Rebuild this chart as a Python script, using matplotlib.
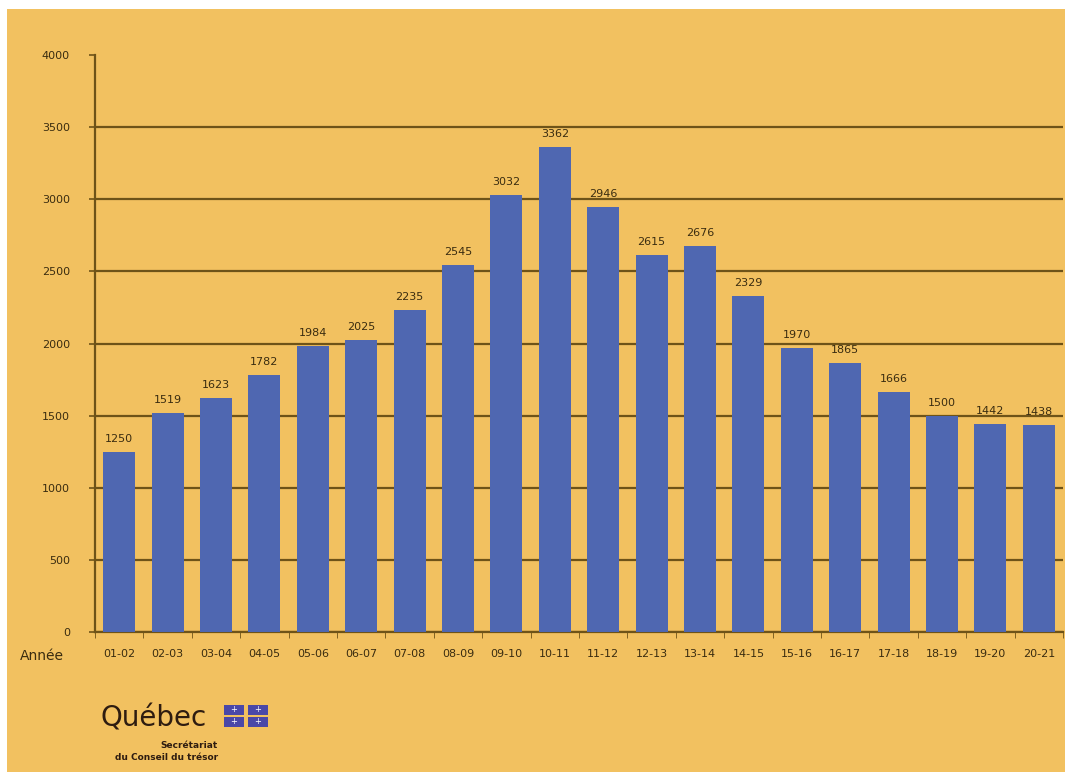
import numpy as np
import matplotlib.pyplot as plt
from matplotlib.patches import Rectangle

# data
annees = ['01-02', '02-03', '03-04', '04-05', '05-06', '06-07', '07-08', '08-09',
          '09-10', '10-11', '11-12', '12-13', '13-14', '14-15', '15-16', '16-17',
          '17-18', '18-19', '19-20', '20-21']
valeurs = [1250, 1519, 1623, 1782, 1984, 2025, 2235, 2545, 3032, 3362,
           2946, 2615, 2676, 2329, 1970, 1865, 1666, 1500, 1442, 1438]
yticks = [0, 500, 1000, 1500, 2000, 2500, 3000, 3500, 4000]

orange = '#F2C160'
bleu = '#4F67B1'
brun = '#6E5318'
texte = '#3A2C10'

fig = plt.figure(figsize=(10.65, 7.72), dpi=100, facecolor='white')
# orange panel with a thin white border top/left
fig.add_artist(Rectangle((7/1065, 0), 1, 1 - 9/772, transform=fig.transFigure,
                         facecolor=orange, edgecolor='none', zorder=0))

ax = fig.add_axes([95/1065, 1 - 632/772, 968/1065, 577/772])
ax.set_facecolor(orange)
ax.patch.set_alpha(0)

x = np.arange(len(annees))
ax.bar(x, valeurs, width=0.66, color=bleu, zorder=3)
for xi, v in zip(x, valeurs):
    ax.text(xi, v + 55, str(v), ha='center', va='bottom', fontsize=8,
            color=texte, zorder=4)

ax.set_xlim(-0.5, len(annees) - 0.5)
ax.set_ylim(0, 4000)
ax.set_yticks(yticks)
ax.set_yticklabels([str(t) for t in yticks], fontsize=8, color=texte)
ax.yaxis.grid(True, color=brun, linewidth=1.6, zorder=1)
ax.set_axisbelow(True)
# no gridline at the top (4000)
ax.yaxis.get_gridlines()[-1].set_visible(False)

ax.set_xticks(x)
ax.set_xticklabels(annees, fontsize=8, color=texte)
ax.tick_params(axis='x', length=0, pad=12)
ax.set_xticks(np.arange(len(annees) + 1) - 0.5, minor=True)
ax.tick_params(axis='x', which='minor', length=4, color=brun, direction='out')
ax.tick_params(axis='y', length=4, color=brun, width=1.2, pad=14)

for s in ['top', 'right']:
    ax.spines[s].set_visible(False)
ax.spines['left'].set_color(brun)
ax.spines['left'].set_linewidth(1.6)
ax.spines['bottom'].set_color(brun)
ax.spines['bottom'].set_linewidth(1.6)

fig.text(20/1065, 1 - 656/772, 'Année', fontsize=10, color=texte, va='center')

# logo
fig.text(100/1065, 1 - 718/772, 'Québec', fontsize=20, color='#2E1C10',
         va='center', family='DejaVu Sans')
for cx, cy in [(234, 710), (258, 710), (234, 722), (258, 722)]:
    fig.add_artist(Rectangle(((cx - 10) / 1065, 1 - (cy + 5) / 772), 20 / 1065, 10 / 772,
                             transform=fig.transFigure, facecolor='#4A48A8',
                             edgecolor='none'))
    fig.text(cx / 1065, 1 - cy / 772, '+', fontsize=6, color='white',
             ha='center', va='center')
fig.text(218/1065, 1 - 745/772, 'Secrétariat', fontsize=6.5, color='#2E1C10',
         ha='right', va='center', fontweight='bold')
fig.text(218/1065, 1 - 757/772, 'du Conseil du trésor', fontsize=6.5, color='#2E1C10',
         ha='right', va='center', fontweight='bold')

fig.savefig('out.png', dpi=100, facecolor='white')
